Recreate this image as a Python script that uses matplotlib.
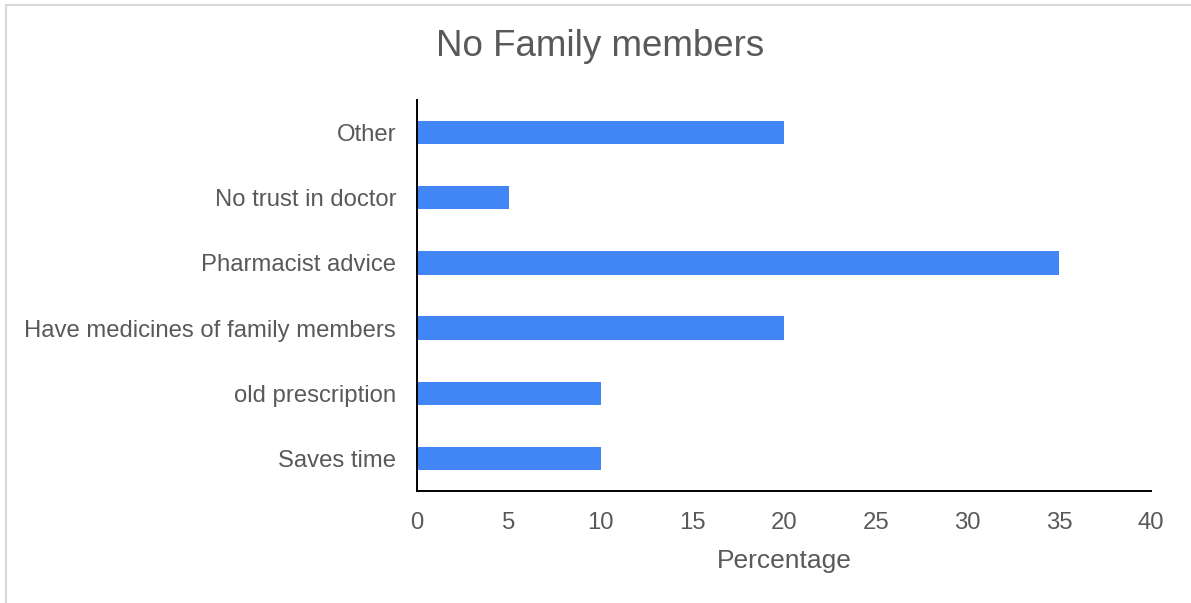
import matplotlib
matplotlib.use("Agg")
import matplotlib.pyplot as plt
from matplotlib.patches import Rectangle

categories = ["Saves time", "old prescription", "Have medicines of family members",
              "Pharmacist advice", "No trust in doctor", "Other"]
values = [10, 10, 20, 35, 5, 20]
x_ticks = [0, 5, 10, 15, 20, 25, 30, 35, 40]

plt.rcParams['font.family'] = ['Liberation Sans', 'DejaVu Sans']

fig = plt.figure(figsize=(11.91, 6.03), dpi=100)
ax = fig.add_axes([417 / 1191, 1 - 491 / 603, (1151 - 417) / 1191, (491 - 100) / 603])

ax.barh(range(len(categories)), values, height=0.36, color="#4285F4")
ax.set_xlim(0, 40)
ax.set_ylim(-0.5, len(categories) - 0.5)
ax.set_xticks(x_ticks)
ax.set_yticks(range(len(categories)))
ax.set_yticklabels(categories)
ax.tick_params(axis="both", length=0, labelsize=17.2, labelcolor="#595959")
ax.tick_params(axis="x", pad=15)
ax.tick_params(axis="y", pad=15)

for side in ("top", "right"):
    ax.spines[side].set_visible(False)
for side in ("left", "bottom"):
    ax.spines[side].set_color("#000000")
    ax.spines[side].set_linewidth(1.4)

ax.set_xlabel("Percentage", fontsize=19, color="#595959", labelpad=11)
fig.text(0.504, 1 - 47 / 603, "No Family members", ha="center", va="center",
         fontsize=26.5, color="#595959")

# light frame around the chart area
fig.patches.append(Rectangle((5.5 / 1191, -0.05), 1.1, 1 - 4.5 / 603 + 0.05,
                             transform=fig.transFigure, fill=False,
                             edgecolor="#d9d9d9", linewidth=1.5))

fig.savefig("out.png", dpi=100)
